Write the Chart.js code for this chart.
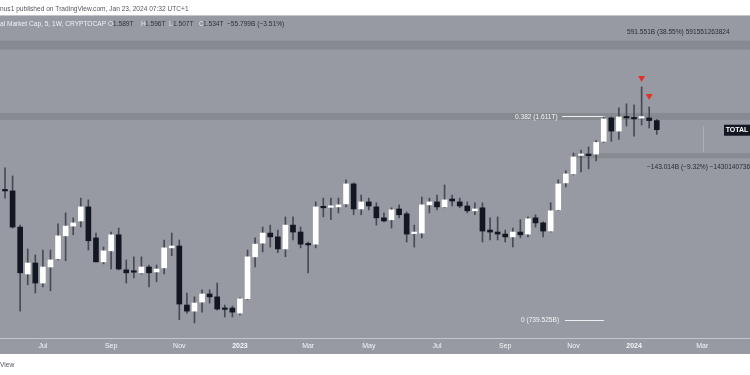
<!DOCTYPE html>
<html><head><meta charset="utf-8">
<script src="https://cdn.jsdelivr.net/npm/chart.js@4.4.1/dist/chart.umd.min.js"></script>
<style>
html,body{margin:0;padding:0;background:#fff;width:750px;height:375px;overflow:hidden}
#wrap{position:absolute;left:0;top:0;width:750px;height:375px}
</style></head>
<body><div id="wrap"><canvas id="c" width="750" height="375"></canvas></div>
<script>
// Weekly candles (values in trillions USD), week 0 = 2022-05-30
const opens = [1.218,1.213,1.056,0.882,0.920,0.852,0.906,0.935,1.021,1.060,
1.081,1.141,1.013,0.924,0.964,1.025,0.896,0.890,0.886,0.906,
0.889,0.903,0.975,0.982,0.783,0.765,0.792,0.817,0.808,0.771,
0.774,0.759,0.802,0.942,0.993,1.032,1.017,0.971,1.064,1.036,
0.989,0.989,1.141,1.139,1.141,1.154,1.246,1.132,1.163,1.141,
1.094,1.086,1.132,1.111,1.030,1.032,1.150,1.163,1.141,1.176,
1.163,1.145,1.124,1.137,1.044,1.036,1.028,1.017,1.036,1.028,
1.094,1.073,1.040,1.128,1.251,1.295,1.390,1.392,1.397,1.467,
1.605,1.526,1.611,1.605,1.604,1.605,1.589];
const highs = [1.325,1.285,1.064,0.971,0.949,0.967,0.967,1.069,1.115,1.094,
1.180,1.172,1.032,0.978,1.036,1.052,0.931,0.942,0.942,0.913,
0.913,1.005,1.032,1.005,0.820,0.808,0.830,0.830,0.852,0.783,
0.780,0.805,0.967,1.013,1.056,1.064,1.044,1.098,1.098,1.056,
0.997,1.163,1.180,1.180,1.180,1.266,1.251,1.194,1.180,1.159,
1.115,1.137,1.150,1.119,1.064,1.185,1.180,1.194,1.241,1.194,
1.180,1.163,1.159,1.159,1.094,1.098,1.044,1.052,1.086,1.098,
1.107,1.077,1.159,1.266,1.310,1.403,1.419,1.436,1.472,1.611,
1.611,1.668,1.694,1.688,1.808,1.674,1.596];
const lows = [1.180,1.052,0.765,0.846,0.820,0.839,0.827,0.931,0.928,1.025,
1.056,0.967,0.924,0.917,0.899,0.896,0.852,0.869,0.882,0.839,
0.856,0.882,0.946,0.740,0.759,0.731,0.762,0.789,0.768,0.748,
0.748,0.754,0.799,0.906,0.960,0.978,0.957,0.942,1.005,0.975,
0.886,0.975,1.098,1.086,1.115,1.141,1.107,1.107,1.128,1.064,
1.077,1.052,1.094,0.997,0.978,1.013,1.115,1.128,1.137,1.145,
1.137,1.115,1.107,0.997,1.005,1.005,0.997,0.978,1.013,1.017,
1.056,1.017,1.036,1.124,1.232,1.290,1.305,1.320,1.361,1.461,
1.467,1.478,1.556,1.497,1.562,1.544,1.507];
const closes = [1.213,1.056,0.886,0.920,0.852,0.906,0.931,1.021,1.060,1.073,
1.141,1.002,0.924,0.964,1.025,0.899,0.886,0.888,0.906,0.886,
0.899,0.975,0.982,0.786,0.765,0.789,0.817,0.808,0.771,0.770,
0.762,0.802,0.942,0.989,1.032,1.017,0.971,1.064,1.036,0.989,
0.986,1.141,1.137,1.141,1.150,1.246,1.132,1.163,1.145,1.094,
1.081,1.128,1.107,1.028,1.032,1.150,1.163,1.141,1.172,1.167,
1.145,1.124,1.132,1.040,1.036,1.028,1.017,1.036,1.025,1.090,
1.073,1.040,1.124,1.246,1.295,1.382,1.393,1.389,1.461,1.599,
1.526,1.611,1.605,1.599,1.606,1.589,1.534];

// x-axis tick labels (first weekly bar of the month, as week index)
const tickWeeks  = [5, 14, 23, 31, 40, 48, 57, 66, 75, 83, 92];
const tickLabels = ['Jul','Sep','Nov','2023','Mar','May','Jul','Sep','Nov','2024','Mar'];

// horizontal levels (trillions)
const fibLevel = 1.611;     // 0.382
const fibZero = 0.739525;   // 0
const resistLevel = 2.1256; // +591.551B
const supportLevel = 1.391; // -143.014B
const lastClose = 1.534;
const supportFromWeek = 75;
// sell signal markers
const signalWeeks = [84, 85];
const signalValues = [1.871, 1.746];

const idx = opens.map((_, i) => i);
const FONT = "'Liberation Sans', Arial, sans-serif";
const GRAY = '#979aa2', BAND = '#878a91', DARK = '#131722', WICK = '#474a52';

const bgPlugin = {
  id: 'bg',
  beforeDraw(chart) {
    const {ctx} = chart;
    ctx.save();
    ctx.fillStyle = '#ffffff';
    ctx.fillRect(0, 0, 750, 375);
    ctx.fillStyle = GRAY;
    ctx.fillRect(0, 15, 750, 339);
    ctx.fillStyle = '#c3c5ca';
    ctx.fillRect(0, 15, 750, 1);
    ctx.fillRect(0, 338, 750, 1);
    ctx.restore();
  },
  beforeDatasetsDraw(chart) {
    const {ctx, scales: {x, y}} = chart;
    ctx.save();
    ctx.fillStyle = BAND;
    let py = y.getPixelForValue(resistLevel);
    ctx.fillRect(0, py - 4, 750, 9);
    py = y.getPixelForValue(fibLevel);
    ctx.fillRect(0, py - 4, 750, 7);
    py = y.getPixelForValue(supportLevel);
    const sx = x.getPixelForValue(supportFromWeek);
    ctx.fillRect(sx, py - 2, 750 - sx, 5);
    // measure vertical line
    ctx.fillStyle = '#aeb1b7';
    ctx.fillRect(703, y.getPixelForValue(lastClose) - 3, 1, y.getPixelForValue(supportLevel) - y.getPixelForValue(lastClose));
    // fib level short lines
    ctx.fillStyle = '#eceef0';
    ctx.fillRect(562, Math.round(y.getPixelForValue(fibLevel)) - 1, 43, 1);
    ctx.fillRect(565, Math.round(y.getPixelForValue(fibZero)), 39, 1);
    ctx.restore();
  },
  afterDraw(chart) {
    const {ctx, scales: {x, y}} = chart;
    ctx.save();
    ctx.textBaseline = 'middle';
    ctx.font = `6.6px ${FONT}`;
    ctx.fillStyle = '#555760';
    ctx.fillText('nus1 published on TradingView.com, Jan 23, 2024 07:32 UTC+1', 0, 9);
    ctx.fillText('View', 0, 365);
    // header legend
    const seg = [
      ['al Market Cap, 5, 1W, CRYPTOCAP', '#eef0f3', 0],
      ['O', '#e6e8ec', 108], ['1.589T', '#2f323a', 113],
      ['H', '#e6e8ec', 141], ['1.596T', '#2f323a', 145],
      ['L', '#e6e8ec', 169], ['1.507T', '#2f323a', 173],
      ['C', '#e6e8ec', 199], ['1.534T', '#2f323a', 203],
      ['\u221255.799B (\u22123.51%)', '#2f323a', 227]
    ];
    seg.forEach(([t, c, px]) => { ctx.fillStyle = c; ctx.fillText(t, px, 24); });
    // measure labels
    ctx.fillStyle = '#2a2d35';
    ctx.fillText('591.551B (38.55%) 591551263824', 627, 32);
    ctx.fillText('\u2212143.014B (\u22129.32%) \u22121430140736', 647, y.getPixelForValue(supportLevel) + 12);
    // fib labels
    ctx.fillStyle = '#f2f3f5';
    ctx.fillText('0.382 (1.611T)', 515, y.getPixelForValue(fibLevel));
    ctx.fillText('0 (739.525B)', 521, y.getPixelForValue(fibZero));
    // TOTAL price label
    const ly = y.getPixelForValue(lastClose);
    ctx.fillStyle = DARK;
    ctx.fillRect(724, ly - 5, 26, 11);
    ctx.fillStyle = '#ffffff';
    ctx.font = `bold 7px ${FONT}`;
    ctx.textAlign = 'center';
    ctx.fillText('TOTAL', 737, ly + 0.5);
    ctx.restore();
  }
};

new Chart(document.getElementById('c'), {
  type: 'bar',
  data: {
    datasets: [
      {
        label: 'wick',
        data: idx.map(i => ({x: i, y: [lows[i], highs[i]]})),
        backgroundColor: WICK,
        barThickness: 1,
        grouped: false,
        order: 3
      },
      {
        label: 'body',
        data: idx.map(i => ({x: i, y: [opens[i], closes[i]]})),
        backgroundColor: idx.map(i => closes[i] >= opens[i] ? '#ffffff' : DARK),
        borderWidth: 0,
        barThickness: 5,
        minBarLength: 1.5,
        grouped: false,
        order: 2
      },
      {
        type: 'scatter',
        label: 'signal',
        data: signalWeeks.map((w, k) => ({x: w, y: signalValues[k]})),
        pointStyle: 'triangle',
        rotation: 180,
        radius: 4,
        backgroundColor: '#e2302c',
        borderColor: '#e2302c',
        borderWidth: 0,
        order: 1
      }
    ]
  },
  options: {
    responsive: false,
    devicePixelRatio: 1,
    animation: false,
    layout: {autoPadding: false, padding: {top: 15, bottom: 21, left: 0, right: 0}},
    plugins: {legend: {display: false}, tooltip: {enabled: false}},
    scales: {
      x: {
        type: 'linear',
        min: -0.66,
        max: 98.3,
        offset: false,
        grid: {display: false, drawTicks: false},
        border: {display: false},
        afterBuildTicks: s => { s.ticks = tickWeeks.map(v => ({value: v})); },
        afterFit: s => { s.height = 16; },
        ticks: {
          autoSkip: false,
          maxRotation: 0,
          padding: 4,
          color: '#f4f5f7',
          font: c => ({family: FONT, size: 7, weight: (c.tick && /^\d{4}$/.test(c.tick.label)) ? 'bold' : 'normal'}),
          callback: v => { const k = tickWeeks.indexOf(v); return k >= 0 ? tickLabels[k] : ''; }
        }
      },
      y: {
        type: 'logarithmic',
        min: 0.690,
        max: 2.382,
        bounds: 'data',
        display: false
      }
    }
  },
  plugins: [bgPlugin]
});
</script>
</body></html>
